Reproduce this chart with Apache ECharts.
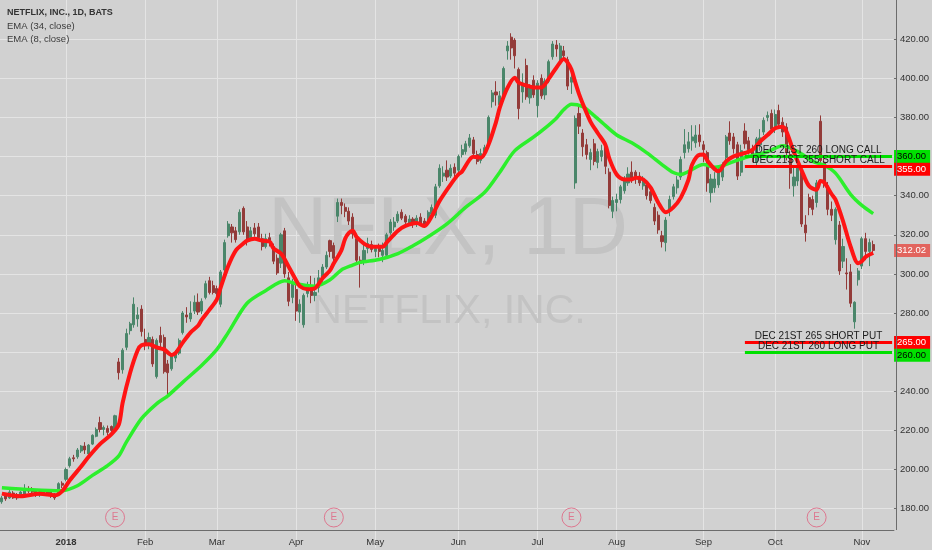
<!DOCTYPE html>
<html><head><meta charset="utf-8">
<script src="https://cdn.jsdelivr.net/npm/echarts@6/dist/echarts.min.js"></script>
<style>html,body{margin:0;padding:0;background:#d1d1d1}#c{width:932px;height:550px}</style>
</head><body><div id="c"></div>
<script>
// Trading days (categories). Last five are empty future slots on the axis.
const dates = [
'2017-12-06','2017-12-07','2017-12-08','2017-12-11','2017-12-12','2017-12-13','2017-12-14','2017-12-15','2017-12-18','2017-12-19','2017-12-20','2017-12-21','2017-12-22','2017-12-26','2017-12-27','2017-12-28','2017-12-29',
'2018-01-02','2018-01-03','2018-01-04','2018-01-05','2018-01-08','2018-01-09','2018-01-10','2018-01-11','2018-01-12','2018-01-16','2018-01-17','2018-01-18','2018-01-19','2018-01-22','2018-01-23','2018-01-24','2018-01-25','2018-01-26','2018-01-29','2018-01-30','2018-01-31',
'2018-02-01','2018-02-02','2018-02-05','2018-02-06','2018-02-07','2018-02-08','2018-02-09','2018-02-12','2018-02-13','2018-02-14','2018-02-15','2018-02-16','2018-02-20','2018-02-21','2018-02-22','2018-02-23','2018-02-26','2018-02-27','2018-02-28',
'2018-03-01','2018-03-02','2018-03-05','2018-03-06','2018-03-07','2018-03-08','2018-03-09','2018-03-12','2018-03-13','2018-03-14','2018-03-15','2018-03-16','2018-03-19','2018-03-20','2018-03-21','2018-03-22','2018-03-23','2018-03-26','2018-03-27','2018-03-28','2018-03-29',
'2018-04-02','2018-04-03','2018-04-04','2018-04-05','2018-04-06','2018-04-09','2018-04-10','2018-04-11','2018-04-12','2018-04-13','2018-04-16','2018-04-17','2018-04-18','2018-04-19','2018-04-20','2018-04-23','2018-04-24','2018-04-25','2018-04-26','2018-04-27','2018-04-30',
'2018-05-01','2018-05-02','2018-05-03','2018-05-04','2018-05-07','2018-05-08','2018-05-09','2018-05-10','2018-05-11','2018-05-14','2018-05-15','2018-05-16','2018-05-17','2018-05-18','2018-05-21','2018-05-22','2018-05-23','2018-05-24','2018-05-25','2018-05-29','2018-05-30','2018-05-31',
'2018-06-01','2018-06-04','2018-06-05','2018-06-06','2018-06-07','2018-06-08','2018-06-11','2018-06-12','2018-06-13','2018-06-14','2018-06-15','2018-06-18','2018-06-19','2018-06-20','2018-06-21','2018-06-22','2018-06-25','2018-06-26','2018-06-27','2018-06-28','2018-06-29',
'2018-07-02','2018-07-03','2018-07-05','2018-07-06','2018-07-09','2018-07-10','2018-07-11','2018-07-12','2018-07-13','2018-07-16','2018-07-17','2018-07-18','2018-07-19','2018-07-20','2018-07-23','2018-07-24','2018-07-25','2018-07-26','2018-07-27','2018-07-30','2018-07-31',
'2018-08-01','2018-08-02','2018-08-03','2018-08-06','2018-08-07','2018-08-08','2018-08-09','2018-08-10','2018-08-13','2018-08-14','2018-08-15','2018-08-16','2018-08-17','2018-08-20','2018-08-21','2018-08-22','2018-08-23','2018-08-24','2018-08-27','2018-08-28','2018-08-29','2018-08-30','2018-08-31',
'2018-09-04','2018-09-05','2018-09-06','2018-09-07','2018-09-10','2018-09-11','2018-09-12','2018-09-13','2018-09-14','2018-09-17','2018-09-18','2018-09-19','2018-09-20','2018-09-21','2018-09-24','2018-09-25','2018-09-26','2018-09-27','2018-09-28',
'2018-10-01','2018-10-02','2018-10-03','2018-10-04','2018-10-05','2018-10-08','2018-10-09','2018-10-10','2018-10-11','2018-10-12','2018-10-15','2018-10-16','2018-10-17','2018-10-18','2018-10-19','2018-10-22','2018-10-23','2018-10-24','2018-10-25','2018-10-26','2018-10-29','2018-10-30','2018-10-31',
'2018-11-01','2018-11-02','2018-11-05','2018-11-06','2018-11-07','2018-11-08','2018-11-09','2018-11-12','2018-11-13'
];

// Daily candles: [open, close, low, high], in the order of dates
const ohlc = [
[183.5,185.5,182.5,186.5],[186.5,185,184,187.5],[185.5,188.5,185,189.5],[188,185.5,185,189],[187,185.5,184.5,188],[186,188.5,185.5,189],[187.5,190,186.5,192.5],[190,189,188,191.5],[190,188.5,187.5,191],[189,186.8,186,189.5],[187,188.5,186,190],[187.5,189,186.5,190],[189,187,186.5,190],[188.5,187,185.5,189],[187.5,185.5,184.5,188],[187,192.8,186.5,193.5],[193,192,190.5,194],
[195,200,194,201],[202,205.5,201,206.5],[206,205.5,204,207.5],[206.5,210,205.5,211],[209.5,212,208.5,212.5],[212,210,208,214],[208,212.5,206.5,213],[213,217.5,212.5,218],[217,220.5,216.5,221.5],[224,220.5,219,227],[220.5,221.5,217.5,222.5],[221,219,217.5,222.5],[222,220,219,222.5],[220.5,227.5,219.5,228],[255,249.5,246,257],[251,261,249,262],[262.5,269.5,261,272],[271,274.5,269,275.5],[274,284.5,272.5,288],[277,279,273,283],[282,270.5,268,284],
[266.5,264.5,261,272],[264,267.5,261.5,270],[266.5,254,252.5,268],[247.5,266,246.5,267],[268.5,265,262,273],[267.5,250,249,269],[254,249.5,236.5,256],[251.5,258,250.5,259],[257,259.5,255,261],[259.5,266,258.5,267],[270,280,269,281],[279,278,275,283],[277,280,275.5,286],[281,285.5,279.5,289],[285.5,280.5,279,290],[281,286,279.5,287.5],[288,295,287,296.5],[296.5,290.5,289.5,298.5],[294,290.5,289.5,296.5],
[292.5,290,285.5,294],[284.5,301,283,302],[302,316,300.5,317.5],[319.5,325.5,318.5,327],[324,321,316,325.5],[322,317.5,316,324],[321.5,331.5,320,333],[333.5,321.5,320,334.5],[324,317,314.5,327],[318.5,322,317.5,324],[323.5,320.5,319,326],[324,318.5,317.5,326],[318,314,312,320.5],[314,318,313,320.5],[318.5,316,314,321],[314,306.5,305,315.5],[308,300.5,299.5,310],[305.5,320,303,321],[322,300,298,323.5],[298,286,283.5,301],[288,295,285,297.5],
[292,281,276,296],[280.5,284.5,275,287],[274,289,272.5,290],[290,294,288,296],[293,289,285,299],[289,290.5,286,298],[293,298,290.5,302],[298,303.5,296,305],[303.5,309.5,302.5,311.5],[317,311.5,308.5,317.5],[314.5,308,306,316],[329.5,336.5,326.5,338.5],[336.5,335,330.5,338.5],[334,332,329,336],[332,327,325,334],[329,320.5,318,331],[318,307,305,320],[307,305.5,293,309],[306,312,304.5,315],[313,315.5,310.5,318.5],[315,312.5,311,317],
[311.5,313,308.5,314],[313.5,311.5,308.5,315.5],[309.5,312,306,316],[309.5,320,308,321],[321,326.5,320,328],[324,326.5,322,329],[327,330.5,326,332],[331.5,328.5,327.5,333],[329.5,326.5,325,330.5],[326,328,324.5,330],[328,325.5,323.5,329],[325.5,328.5,324,330],[329,326,324.5,331],[327,324.5,323.5,328.5],[327,331.5,325.5,332.5],[330.5,334,329.5,335.5],[330,344.5,328.5,346],[345,354,344,356],[350,351.5,347,355],[353,349.5,347.5,358],[350,354,349,356],[354.5,351.5,349.5,356.5],
[353,360,352,361],[361,363.5,359.5,366],[362.5,366.5,361,368],[365.5,369.5,364.5,371.5],[368.5,361.5,360,370],[361,357.5,356,363],[358,361.5,356.5,364],[362,364.5,360.5,366],[366,380,365,381],[388,392.5,385,394],[393,391.5,386,398.5],[386.5,391,384.5,393.5],[390,405,388,406],[414,416.5,409.5,419],[421,415.5,409.5,423],[419.5,411.5,405,420.5],[404.5,384.5,379,405.5],[393,397.5,387.5,402.5],[406.5,390.5,389,410],[390,395.5,387,397],[399,391.5,390,401.5],
[386,397.5,380,399],[400,391,389.5,402],[391.5,398.5,389,400],[398.5,408.5,397.5,409.5],[411,417.5,409.5,419],[417,415,411,419.5],[409,416.5,406.5,418],[414,411.5,409,416.5],[409.5,396,394,411],[398,400.5,392,403],[346.5,379.5,343.5,381],[382,375.5,371.5,385.5],[372,365,360,374],[366,361,358.5,369],[358.5,362,353,364],[366.5,357.5,355.5,369],[357,362.5,354,364],[360,363,357.5,366],[365,355,351,367.5],[352,335,333.5,354],[332,337.5,328.5,339.5],
[336.5,338,332,341],[338,344.5,336,345.5],[342.5,348,341,350],[346.5,351,345,354.5],[352,348.5,346.5,357.5],[352,349,346,353],[350,346.5,345,352],[345,348,343,350],[345.5,340,338,347],[342,337.5,336,344],[334,327,325,336],[330,322.5,320.5,332],[319.5,316.5,313.5,322],[316,327.5,311.5,329],[332,338,329.5,340],[339.5,344.5,338,346],[344,348,341,350],[349.5,358.5,348,360],[362,366,359,374],[364,367.5,362,372.5],[368,370,363,376],[367,371,364.5,376],[371,367.5,365,376.5],
[366,363.5,357,368],[362,346.5,342,363],[341.5,348.5,336.5,351],[344,348.5,341.5,352],[345.5,353,344,355],[349.5,355.5,347.5,357],[359.5,370,357,371],[372,368,366,378],[370,364,361.5,372],[366,350,348,367.5],[352,363,350,366],[373,366.5,364,377],[368,363.5,361,370],[363,361,357,366],[357,369,355,370],[366,369.5,363,374],[372.5,378.5,371,380],[380,381,378,383],[382,374,372.5,384],
[375,381.5,372,384],[383.5,376.5,374,386.5],[377.5,372.5,370,380],[375,362,358,377],[361,351.5,343.5,363],[345,349.5,339.5,355],[347.5,355,345,358],[352,325.5,324,354],[325,321,316.5,330],[339,334,330,341],[338,333,330,340],[336.5,346.5,334,348],[378,358,355,381],[357,346.5,344,359],[345,333,330,347],[333,330,327,337],[317.5,333,315,334],[325,301.5,299.5,327],[306.5,314,303,318],[300.5,300,292,308],[301,285,283,305],[275.5,285.5,272,286],[297,301.5,294,303],
[304,318,302.5,319],[318,311.5,307,321],[311.5,316,304,318],[315,312.02,310,317]
];

// EMA (34, close): [trading-day index, value]
const ema34 = [[0,190.7],[8,189.7],[16,189.2],[20,191.7],[24,197],[28,202],[31,207],[33,214],[37,226],[41,233.6],[44,237.7],[48,244.7],[53,253.3],[57,261.4],[60,270],[65,285],[70,291.5],[75,296.5],[78,295],[83,293.7],[87,297],[90,302],[93,304.5],[95,305.9],[100,307.4],[105,310.4],[109,314.4],[113,319],[118,325.6],[123,334.1],[128,341.7],[132,352],[136,363],[141,370],[144,374.5],[147,379.6],[149,384],[151,386.7],[154,385.5],[156,382.6],[159,377.6],[163,371],[167,367],[171,361.9],[175,355.9],[178,351.8],[180,350.8],[182,352.3],[186,355.9],[189,354.5],[194,357.4],[198,360],[203,362.4],[207,365.5],[211,362.5],[215,357.5],[218,355.5],[221,351.5],[225,340.7],[228,335],[231,330.8]];

// EMA (8, close): [trading-day index, value]
const ema8 = [[0,187.7],[5,186.4],[10,187.6],[14,186.8],[16,189],[18,194.5],[21,201.5],[23,206.5],[26,213],[29,218],[31,223],[32,234],[34,249.5],[36,261],[37,263.5],[39,264],[41,262.4],[43,261.4],[45,258.6],[46,259.5],[48,265],[50,270],[52,273.5],[53,276.6],[55,281.6],[57,287],[58,293],[60,304],[62,311.9],[64,315.5],[65,317],[67,318],[69,317],[71,316.5],[72,313],[74,310.4],[76,303.8],[78,296.8],[79,293.7],[81,292.2],[83,292.7],[85,297.8],[87,301.8],[88,305.4],[90,312],[91,318],[92,321],[93,322],[94,319],[96,315.5],[98,313.9],[101,313.9],[102,316],[105,322],[107,324.5],[110,326],[112,324.5],[114,329.6],[116,337.2],[119,345.8],[121,350.8],[122,352.3],[124,358.4],[125,359.9],[127,359.4],[129,366],[131,377.6],[132,385],[134,395],[136,400.3],[137,397.8],[139,396.3],[141,395.3],[143,395.3],[145,399.8],[147,405.4],[149,409.9],[150,408],[151,404.5],[152,398],[153,392],[154,387],[156,378],[158,371.9],[160,366],[161,359.2],[163,350.8],[165,348.3],[167,348.3],[168,349.1],[170,348.3],[172,344.1],[174,336.5],[176,331.5],[178,334],[180,339],[182,348],[183,355.9],[185,360.9],[186,361],[187,358],[189,353.5],[190,352.5],[192,357.5],[194,360.1],[197,361.8],[199,363.4],[201,367.6],[203,371],[205,374.4],[207,375.2],[208,372.7],[210,362],[212,353],[214,344.9],[216,343],[217,347.5],[218,346.8],[220,340.7],[221,338],[223,327],[225,314],[227,305.5],[228,306.5],[229,308.7],[231,310.7]];

const earningsDates = ['2018-01-22','2018-04-16','2018-07-16','2018-10-16'];
const earningsMarkerLevel = 175.5;

const levelPrices = [360, 355, 265, 260];
const levelTexts = ['DEC 21ST 260 LONG CALL','DEC 21ST 355 SHORT CALL','DEC 21ST 265 SHORT PUT','DEC 21ST 260 LONG PUT'];
const levelStartDate = '2018-09-19';

const titleLines = ['NETFLIX, INC., 1D, BATS','EMA (34, close)','EMA (8, close)'];
const watermark = ['NFLX, 1D','NETFLIX, INC.'];
const monthNames = ['Jan','Feb','Mar','Apr','May','Jun','Jul','Aug','Sep','Oct','Nov','Dec'];

// ---- styles (not data) ----
const UP = '#4a866a', DOWN = '#933b39';
const levelColors = ['#00e000','#ff0000','#ff0000','#00e000'];
const tagText = ['#000000','#ffffff','#ffffff','#000000'];
const tagShift = [0, 3, 0, 3];
const FONT = '"Liberation Sans", Arial, sans-serif';

function isMonthStart(i) { return i > 0 && dates[i].slice(0,7) !== dates[i-1].slice(0,7); }
function monthLabel(v) { const m = +v.slice(5,7); return m === 1 ? '{y|' + v.slice(0,4) + '}' : monthNames[m-1]; }

const lastDate = dates[dates.length - 1];
const lastIdx = ohlc.length - 1;
const lastClose = ohlc[lastIdx][1];

const mlData = [];
levelPrices.forEach((p, i) => {
  mlData.push([
    { coord: [levelStartDate, p], lineStyle: { color: levelColors[i], width: 3, type: 'solid' },
      label: { show: true, position: 'insideMiddleTop', formatter: levelTexts[i], color: '#1c1c1c', fontSize: 10, distance: 1, fontFamily: FONT } },
    { coord: [lastDate, p] }
  ]);
  mlData.push([
    { coord: [levelStartDate, p], lineStyle: { color: levelColors[i], width: 3, type: 'solid' },
      label: { show: true, position: 'end', formatter: p.toFixed(2), color: tagText[i], backgroundColor: levelColors[i],
               padding: [2, 4, 1, 3], fontSize: 9.5, distance: 2, offset: [0, tagShift[i]], fontFamily: FONT } },
    { coord: [lastDate, p] }
  ]);
});
mlData.push([
  { coord: [dates[lastIdx], lastClose], lineStyle: { color: 'rgba(0,0,0,0)', width: 0 },
    label: { show: true, position: 'end', formatter: lastClose.toFixed(2), color: '#ffffff', backgroundColor: '#e2645e',
             padding: [2, 4, 1, 3], fontSize: 9.5, distance: 2, fontFamily: FONT } },
  { coord: [lastDate, lastClose] }
]);

const chart = echarts.init(document.getElementById('c'), null, { renderer: 'canvas' });
chart.setOption({
  backgroundColor: '#d1d1d1',
  animation: false,
  textStyle: { fontFamily: FONT },
  grid: { left: 0, right: 35.5, top: -6.6, bottom: 2.2, containLabel: false },
  xAxis: {
    type: 'category', data: dates, boundaryGap: true, offset: -17.8,
    axisLine: { lineStyle: { color: '#6c6c6c', width: 1 } },
    axisTick: { alignWithLabel: true, interval: isMonthStart, length: 4, lineStyle: { color: '#6c6c6c' } },
    axisLabel: { interval: isMonthStart, formatter: monthLabel, color: '#333', fontSize: 9.5, margin: 7,
                 rich: { y: { fontWeight: 'bold', fontSize: 9.5, color: '#333' } } },
    splitLine: { show: true, interval: isMonthStart, alignWithLabel: true, lineStyle: { color: '#e4e4e4', width: 1 } }
  },
  yAxis: {
    type: 'value', position: 'right', min: 160, max: 440, interval: 20,
    axisLine: { show: false },
    axisTick: { show: true, length: 3, lineStyle: { color: '#6c6c6c' } },
    axisLabel: { formatter: v => v.toFixed(2), color: '#333', fontSize: 9.5, margin: 6, showMinLabel: false, showMaxLabel: false },
    splitLine: { show: true, showMinLine: false, showMaxLine: false, lineStyle: { color: '#e4e4e4', width: 1 } }
  },
  graphic: [
    { type: 'text', x: 448, y: 231, z: 1, silent: true,
      style: { text: watermark[0], font: '82px "Liberation Sans", Arial', fill: '#c3c3c3', align: 'center', verticalAlign: 'middle', textAlign: 'center', textVerticalAlign: 'middle' } },
    { type: 'text', x: 449, y: 312, z: 1, silent: true,
      style: { text: watermark[1], font: '41px "Liberation Sans", Arial', fill: '#c3c3c3', align: 'center', verticalAlign: 'middle', textAlign: 'center', textVerticalAlign: 'middle' } },
    { type: 'text', x: 7, y: 13, z: 10, silent: true,
      style: { text: titleLines[0], font: 'bold 9px "Liberation Sans", Arial', fill: '#333', verticalAlign: 'middle', textVerticalAlign: 'middle' } },
    { type: 'text', x: 7, y: 26, z: 10, silent: true,
      style: { text: titleLines[1], font: '9.5px "Liberation Sans", Arial', fill: '#3a3a3a', verticalAlign: 'middle', textVerticalAlign: 'middle' } },
    { type: 'text', x: 7, y: 39, z: 10, silent: true,
      style: { text: titleLines[2], font: '9.5px "Liberation Sans", Arial', fill: '#3a3a3a', verticalAlign: 'middle', textVerticalAlign: 'middle' } },
    { type: 'line', z: 10, silent: true, shape: { x1: 896.5, y1: 0, x2: 896.5, y2: 530 }, style: { stroke: '#6c6c6c', lineWidth: 1 } }
  ],
  series: [
    {
      type: 'candlestick', name: 'NFLX', data: ohlc, barWidth: 2.6, z: 2,
      itemStyle: { color: UP, color0: DOWN, borderColor: UP, borderColor0: DOWN, borderWidth: 1 },
      markLine: { symbol: ['none', 'none'], silent: true, animation: false, z: 6, data: mlData }
    },
    {
      type: 'line', name: 'EMA (34, close)', data: ema34.map(([i, v]) => [dates[i], v]),
      smooth: 0.3, showSymbol: false, z: 4, lineStyle: { color: '#2cef2c', width: 3.5 }
    },
    {
      type: 'line', name: 'EMA (8, close)', data: ema8.map(([i, v]) => [dates[i], v]),
      smooth: 0.3, showSymbol: false, z: 5, lineStyle: { color: '#ff1414', width: 4 }
    },
    {
      type: 'scatter', name: 'Earnings', data: earningsDates.map(d => [d, earningsMarkerLevel]),
      symbol: 'circle', symbolSize: 19, z: 6,
      itemStyle: { color: 'rgba(0,0,0,0)', borderColor: '#e0627f', borderWidth: 1 },
      label: { show: true, formatter: 'E', position: 'inside', color: '#e0627f', fontSize: 10 }
    }
  ]
});
</script>
</body></html>
